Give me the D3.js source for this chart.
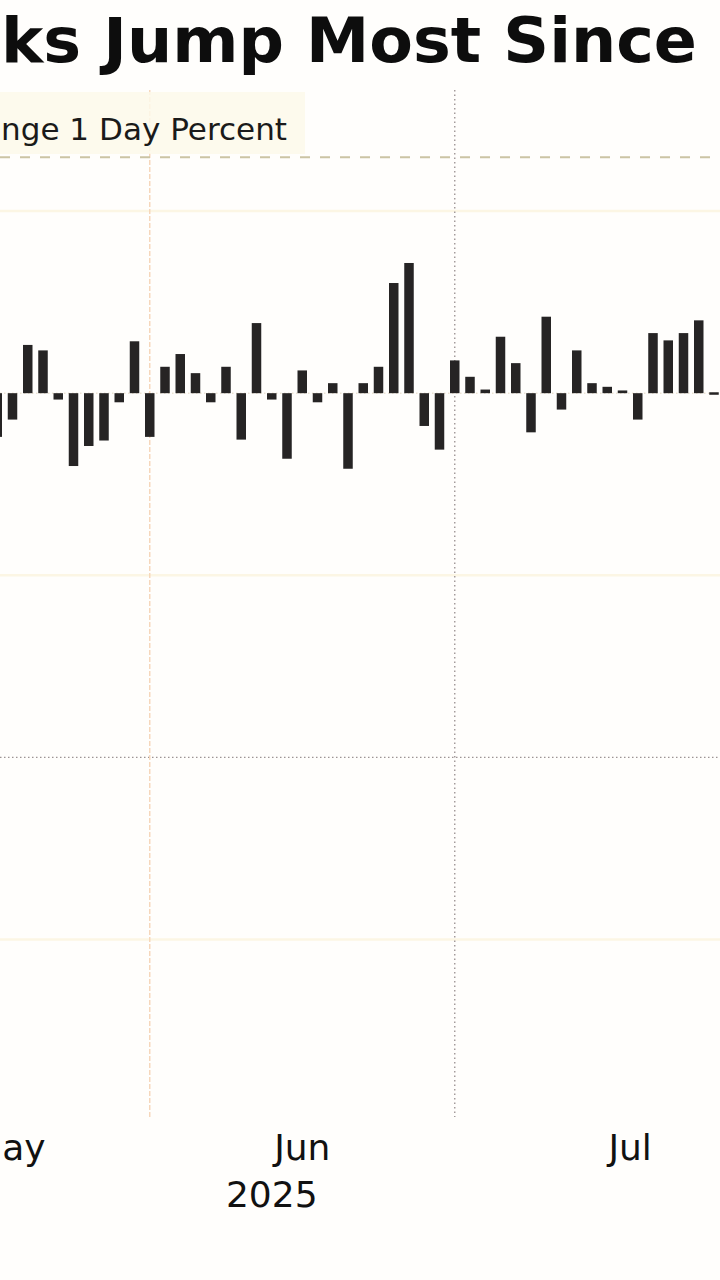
<!DOCTYPE html>
<html>
<head>
<meta charset="utf-8">
<script src="https://cdn.jsdelivr.net/npm/d3@7"></script>
<style>
  html, body { margin: 0; padding: 0; background: #fffefc; overflow: hidden; }
  svg { display: block; }
</style>
</head>
<body>
<svg id="chart" width="720" height="1280"></svg>
<script>
// ---------- data (text as visible in the cropped reference) ----------
const title = "ks Jump Most Since";
const legendLabel = "nge 1 Day Percent";
const dates = [
  "2025-05-16","2025-05-19","2025-05-20","2025-05-21","2025-05-22","2025-05-23",
  "2025-05-27","2025-05-28","2025-05-29","2025-05-30",
  "2025-06-02","2025-06-03","2025-06-04","2025-06-05","2025-06-06",
  "2025-06-09","2025-06-10","2025-06-11","2025-06-12","2025-06-13",
  "2025-06-16","2025-06-17","2025-06-18","2025-06-20",
  "2025-06-23","2025-06-24","2025-06-25","2025-06-26","2025-06-27","2025-06-30",
  "2025-07-01","2025-07-02","2025-07-03","2025-07-07","2025-07-08","2025-07-09",
  "2025-07-10","2025-07-11","2025-07-14","2025-07-15","2025-07-16","2025-07-17",
  "2025-07-18","2025-07-21","2025-07-22","2025-07-23","2025-07-24","2025-07-25"
];
const changes = [
  -0.48, -0.29, 0.53, 0.47, -0.07, -0.80,
  -0.58, -0.52, -0.10, 0.57,
  -0.48, 0.29, 0.43, 0.22, -0.10,
  0.29, -0.51, 0.77, -0.07, -0.72,
  0.25, -0.10, 0.11, -0.83,
  0.11, 0.29, 1.21, 1.43, -0.36, -0.62,
  0.36, 0.18, 0.04, 0.62, 0.33, -0.43,
  0.84, -0.18, 0.47, 0.11, 0.07, 0.03,
  -0.29, 0.66, 0.58, 0.66, 0.80, 0.01
];
const gridValues = [2, 0, -2, -6];
const markedLevel = -4;       // dotted grey horizontal line
const referenceLevel = 2.59;  // dashed line
const monthTicks = ["ay", "Jun", "Jul"];
const monthTickPos = [1.5, 20, 41.5];   // label centres, in trading-day index
const yearLabel = "2025";
const yearTickPos = 18;

// ---------- layout ----------
const W = 720;
const plotTop = 90, plotBottom = 1117;
const FONT = "DejaVu Sans, Verdana, sans-serif";
const svg = d3.select("#chart");

const x = d3.scaleLinear().domain([0, dates.length - 1]).range([-2.75, 714]);
const y = d3.scaleLinear().domain([-7.95, 3.33]).range([plotBottom, plotTop]);
const barW = 9.5;

// month-start indices for vertical lines
const monthStarts = dates.map((d, i) => ({ d, i }))
  .filter((o, k) => k > 0 && o.d.slice(5, 7) !== dates[k - 1].slice(5, 7));

// faint horizontal gridlines
svg.append("g").selectAll("line").data(gridValues).join("line")
  .attr("x1", 0).attr("x2", W)
  .attr("y1", d => y(d)).attr("y2", d => y(d))
  .attr("stroke", d => d === 0 ? "#e3d8c2" : "#fcf6e4")
  .attr("stroke-width", d => d === 0 ? 1 : 2.5)
  .attr("stroke-dasharray", d => d === 0 ? "1.5,2.5" : null);

// dotted grey level
svg.append("line")
  .attr("x1", 0).attr("x2", W)
  .attr("y1", y(markedLevel)).attr("y2", y(markedLevel))
  .attr("stroke", "#9d9494").attr("stroke-width", 1.4)
  .attr("stroke-dasharray", "1.5,2.5");

// vertical month lines
svg.append("g").selectAll("line").data(monthStarts).join("line")
  .attr("x1", d => x(d.i)).attr("x2", d => x(d.i))
  .attr("y1", plotTop).attr("y2", plotBottom)
  .attr("stroke", (d, k) => k === 0 ? "#f6d6b8" : "#9f9797")
  .attr("stroke-width", 1.4)
  .attr("stroke-dasharray", (d, k) => k === 0 ? "5,2" : "1.5,3");

// legend box
const legend = svg.append("g");
legend.append("rect")
  .attr("x", -10).attr("y", 92).attr("width", 315).attr("height", 62)
  .attr("fill", "#fdf9ea").attr("opacity", 0.85);
legend.append("text")
  .attr("x", 1).attr("y", 140)
  .attr("font-family", FONT)
  .attr("font-size", 30)
  .attr("textLength", 286)
  .attr("lengthAdjust", "spacingAndGlyphs")
  .attr("fill", "#1a1a1a")
  .text(legendLabel);

// dashed reference line
svg.append("line")
  .attr("x1", 0).attr("x2", W)
  .attr("y1", y(referenceLevel)).attr("y2", y(referenceLevel))
  .attr("stroke", "#cbc4a4").attr("stroke-width", 2)
  .attr("stroke-dasharray", "10,10");

// bars
svg.append("g").selectAll("rect").data(changes).join("rect")
  .attr("x", (d, i) => x(i) - barW / 2)
  .attr("width", barW)
  .attr("y", d => Math.min(y(d), y(0)))
  .attr("height", d => Math.max(2.5, Math.abs(y(d) - y(0))))
  .attr("fill", "#262424");

// x labels
svg.append("g").selectAll("text").data(monthTicks).join("text")
  .attr("x", (d, k) => Math.max(x(monthTickPos[k]), 24))
  .attr("y", 1160)
  .attr("text-anchor", "middle")
  .attr("font-family", FONT)
  .attr("font-size", 36)
  .attr("fill", "#111")
  .text(d => d);
svg.append("text")
  .attr("x", x(yearTickPos)).attr("y", 1207)
  .attr("text-anchor", "middle")
  .attr("font-family", FONT)
  .attr("font-size", 36)
  .attr("fill", "#111")
  .text(yearLabel);

// title
svg.append("text")
  .attr("x", 1).attr("y", 62)
  .attr("font-family", FONT)
  .attr("font-weight", "bold")
  .attr("font-size", 63)
  .attr("textLength", 696)
  .attr("lengthAdjust", "spacingAndGlyphs")
  .attr("fill", "#0d0d0d")
  .text(title);
</script>
</body>
</html>
